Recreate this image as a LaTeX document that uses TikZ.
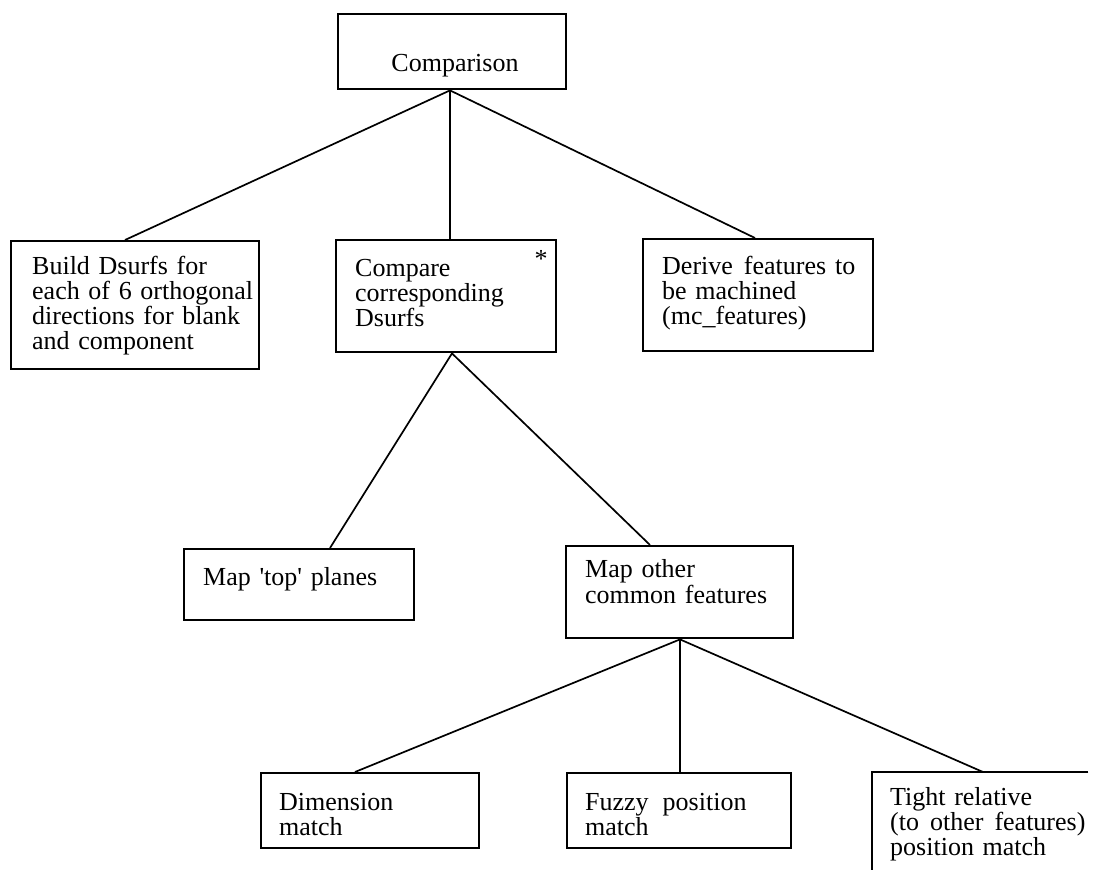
\documentclass[tikz,border=0pt]{standalone}
\usepackage{fontspec}
\setmainfont{Liberation Serif}
\usetikzlibrary{calc}
\begin{document}
\begin{tikzpicture}[x=1pt,y=-1pt,
  box/.style={draw, line width=2.4pt, inner sep=0pt, anchor=north west},
  openbox/.style={inner sep=0pt, anchor=north west},
  txt/.style={inner sep=0pt, anchor=base west, align=left,
    font=\fontsize{26}{25}\selectfont},
  link/.style={line width=1.7pt}]
\useasboundingbox (0,0) rectangle (1096,882);

% boxes
\node[box, minimum width=228pt, minimum height=75pt]  (comp)     at (337,13)  {};
\node[box, minimum width=248pt, minimum height=128pt] (build)    at (10,240)  {};
\node[box, minimum width=220pt, minimum height=112pt] (cmp)      at (335,239) {};
\node[box, minimum width=230pt, minimum height=112pt] (derive)   at (642,238) {};
\node[box, minimum width=230pt, minimum height=71pt]  (maptop)   at (183,548) {};
\node[box, minimum width=227pt, minimum height=92pt]  (mapother) at (565,545) {};
\node[box, minimum width=218pt, minimum height=75pt]  (dim)      at (260,772) {};
\node[box, minimum width=224pt, minimum height=75pt]  (fuzzy)    at (566,772) {};
\node[openbox, minimum width=216pt, minimum height=98pt] (tight)  at (872,772) {};
\draw[line width=2.4pt] (tight.north east) -- (tight.north west) -- (tight.south west);

% texts
\node[txt, anchor=base] (comptxt) at (455,72) {Comparison};
\node[txt, text width=230pt] (buildtxt) at (32,275)
  {Build Dsurfs for\\each of 6 orthogonal\\directions for blank\\and component};
\node[txt, text width=180pt] (cmptxt) at (355,277)
  {Compare\\corresponding\\Dsurfs};
\node[txt, anchor=base] (star) at (541,268) {*};
\node[txt, text width=210pt] (derivetxt) at (662,275)
  {Derive\hspace{11pt}features\hspace{9pt}to\\be machined\\(mc\_features)};
\node[txt, text width=200pt] (maptoptxt) at (203,585)
  {Map \textquotesingle top\textquotesingle\ planes};
\node[txt, text width=210pt] (mapothertxt) at (585,578)
  {Map other\\common features};
\node[txt, text width=180pt] (dimtxt) at (279,810)
  {Dimension\\match};
\node[txt, text width=200pt] (fuzzytxt) at (585,810)
  {Fuzzy\hspace{14pt}position\\match};
\node[txt, text width=210pt] (tighttxt) at (890,805)
  {Tight relative\\(to\hspace{11pt}other\hspace{11pt}features)\\position match};

% connectors
\coordinate (compfoot) at ($(comp.south west)+(113,0)$);
\coordinate (cmpfoot)  at ($(cmp.south west)+(117,0)$);
\coordinate (mofoot)   at ($(mapother.south west)+(115,0)$);
\draw[link] (compfoot) -- ($(build.north west)+(115,0)$);
\draw[link] (compfoot) -- ($(cmp.north west)+(115,0)$);
\draw[link] (compfoot) -- ($(derive.north west)+(113,0)$);
\draw[link] (cmpfoot) -- ($(maptop.north west)+(147,0)$);
\draw[link] (cmpfoot) -- ($(mapother.north west)+(85,0)$);
\draw[link] (mofoot) -- ($(dim.north west)+(95,0)$);
\draw[link] (mofoot) -- ($(fuzzy.north west)+(114,0)$);
\draw[link] (mofoot) -- ($(tight.north west)+(111,0)$);
\end{tikzpicture}
\end{document}
